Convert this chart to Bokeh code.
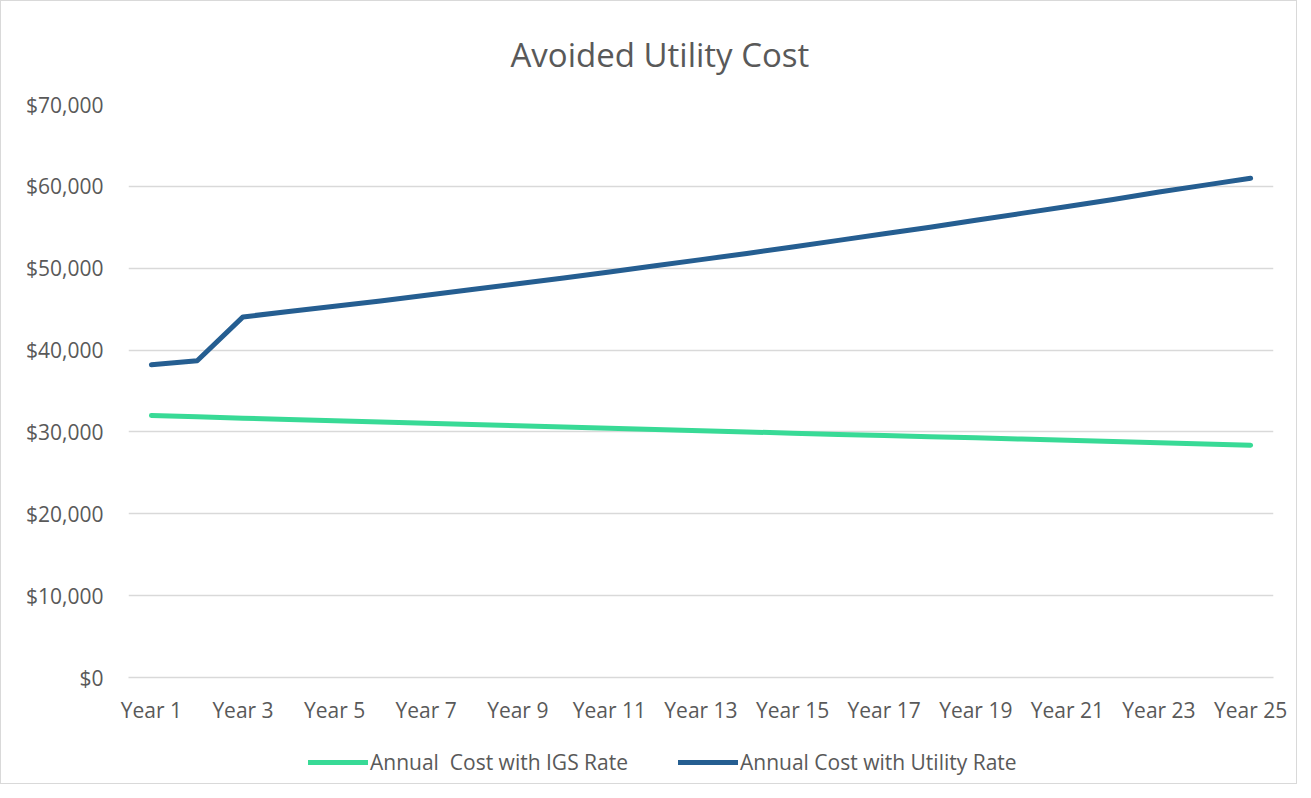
from bokeh.plotting import figure
from bokeh.layouts import column
from bokeh.models import FixedTicker, NumeralTickFormatter, Legend, LegendItem, Range1d
from bokeh.embed import file_html
from bokeh.resources import INLINE

years = list(range(1, 26))
tick_years = [1, 3, 5, 7, 9, 11, 13, 15, 17, 19, 21, 23, 25]
tick_labels = ["Year %d" % y for y in tick_years]

igs_cost = [32000, 31840, 31680, 31520, 31360, 31210, 31050, 30900, 30750, 30600,
            30450, 30300, 30150, 30000, 29850, 29700, 29560, 29420, 29280, 29130,
            28990, 28840, 28690, 28540, 28380]
utility_cost = [38200, 38700, 44050, 44700, 45350, 46000, 46700, 47400, 48100, 48800,
                49550, 50300, 51050, 51800, 52600, 53400, 54200, 55000, 55850, 56700,
                57550, 58400, 59300, 60150, 61000]

series_names = ["Annual  Cost with IGS Rate", "Annual Cost with Utility Rate"]
colors = ["#38DA96", "#255E91"]

FONT = "Open Sans"
TXT = "#595959"
FS = "21px"

p = figure(width=1295, height=730, output_backend="svg", toolbar_location=None,
           x_range=Range1d(0.5, 25.5), y_range=Range1d(0, 70000),
           min_border_left=127, min_border_right=23, min_border_top=103, min_border_bottom=54,
           title="Avoided Utility Cost")

p.title.text_font = FONT
p.title.text_font_size = "33px"
p.title.text_font_style = "normal"
p.title.text_color = TXT
p.title.align = "left"
p.title.offset = 382
p.title.standoff = 55

p.outline_line_color = None
p.xgrid.grid_line_color = None
p.ygrid.grid_line_color = "#D9D9D9"
p.ygrid.grid_line_width = 1.5

p.yaxis.ticker = FixedTicker(ticks=[0, 10000, 20000, 30000, 40000, 50000, 60000, 70000])
p.yaxis.formatter = NumeralTickFormatter(format="$0,0")
p.yaxis.axis_line_color = None
p.yaxis.major_tick_line_color = None
p.yaxis.minor_tick_line_color = None
p.yaxis.major_label_text_font = FONT
p.yaxis.major_label_text_font_size = FS
p.yaxis.major_label_text_color = TXT
p.yaxis.major_label_standoff = 19

p.xaxis.ticker = FixedTicker(ticks=tick_years)
p.xaxis.major_label_overrides = {y: l for y, l in zip(tick_years, tick_labels)}
p.xaxis.axis_line_color = "#D9D9D9"
p.xaxis.axis_line_width = 1.5
p.xaxis.major_tick_line_color = None
p.xaxis.minor_tick_line_color = None
p.xaxis.major_label_text_font = FONT
p.xaxis.major_label_text_font_size = FS
p.xaxis.major_label_text_color = TXT
p.xaxis.major_label_standoff = 12

r1 = p.line(years, igs_cost, line_color=colors[0], line_width=5, line_cap="round", line_join="round")
r2 = p.line(years, utility_cost, line_color=colors[1], line_width=5, line_cap="round", line_join="round")

# legend strip below the chart
nan = float("nan")
lg = figure(width=1295, height=52, output_backend="svg", toolbar_location=None,
            x_range=Range1d(0, 1), y_range=Range1d(0, 1), min_border=0,
            x_axis_type=None, y_axis_type=None)
lg.grid.visible = False
lg.outline_line_color = None
k1 = lg.line([0, 1], [nan, nan], line_color=colors[0], line_width=5, line_cap="round")
k2 = lg.line([0, 1], [nan, nan], line_color=colors[1], line_width=5, line_cap="round")
legend = Legend(items=[LegendItem(label=series_names[0], renderers=[k1]),
                       LegendItem(label=series_names[1], renderers=[k2])],
                orientation="horizontal", location=(180, 7),
                label_text_font=FONT, label_text_font_size=FS, label_text_color=TXT,
                glyph_width=60, glyph_height=24, label_standoff=2, spacing=50,
                border_line_color=None, background_fill_alpha=0, margin=0, padding=0)
lg.add_layout(legend, "center")

layout = column(p, lg, spacing=0)
layout.styles = {"border": "1.5px solid #D9D9D9"}

open("out.html", "w").write(file_html(layout, INLINE))
